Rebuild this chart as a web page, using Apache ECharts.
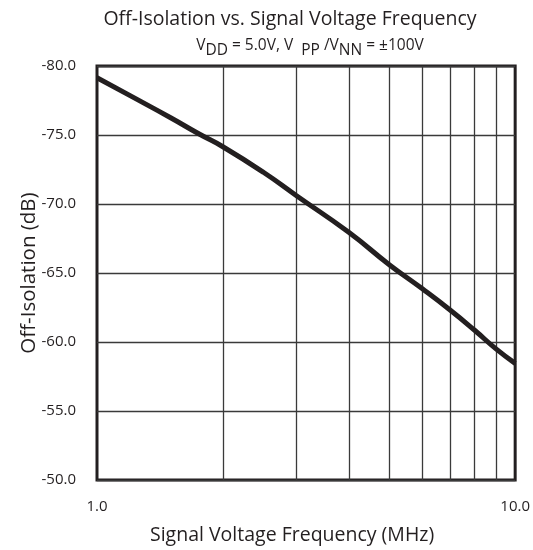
<!DOCTYPE html>
<html>
<head>
<meta charset="utf-8">
<script src="https://cdn.jsdelivr.net/npm/echarts@6/dist/echarts.min.js"></script>
<style>html,body{margin:0;padding:0;background:#fff}#c{width:533px;height:550px}</style>
</head>
<body>
<div id="c"></div>
<script>
var freqs = [1, 1.2, 1.5, 1.76, 2, 2.5, 3, 4, 5, 6, 7, 8, 9, 10];
var isolation = [-79.15, -77.85, -76.25, -75.05, -74.15, -72.3, -70.6, -67.95, -65.6, -63.85, -62.3, -60.85, -59.5, -58.45];
var minorFreqs = [2, 3, 4, 5, 6, 7, 8, 9];
var yTicks = [-80, -75, -70, -65, -60, -55, -50];

var ink = '#231f20';
var font = '"Open Sans", "Noto Sans", sans-serif';
var chart = echarts.init(document.getElementById('c'), null, {renderer: 'canvas'});
chart.setOption({
  animation: false,
  backgroundColor: '#fff',
  textStyle: {fontFamily: font},
  title: [{
    text: 'Off-Isolation vs. Signal Voltage Frequency',
    left: 285, textAlign: 'center', top: 4,
    textStyle: {fontFamily: font, fontSize: 19.5, fontWeight: 'normal', color: ink}
  }, {
    text: '{n|V}{s|DD}{n| = 5.0V, V  }{s|PP}{n| /V}{s|NN}{n| = ±100V}',
    left: 305, textAlign: 'center', top: 33,
    textStyle: {
      fontFamily: font, fontWeight: 'normal', color: ink,
      rich: {
        n: {fontFamily: font, fontSize: 15.5, color: ink, verticalAlign: 'top', lineHeight: 21},
        s: {fontFamily: font, fontSize: 15.5, color: ink, verticalAlign: 'bottom', lineHeight: 21, padding: [6, 0, 0, 0]}
      }
    }
  }],
  grid: {
    left: 97, right: 17, top: 66, bottom: 69,
    show: true, borderColor: ink, borderWidth: 3, backgroundColor: 'transparent'
  },
  xAxis: {
    type: 'log', logBase: 10, min: 1, max: 10,
    name: 'Signal Voltage Frequency (MHz)',
    nameLocation: 'middle', nameGap: 45,
    nameMoveOverlap: false,
    nameTextStyle: {fontFamily: font, fontSize: 19.5, color: ink, padding: [0, 28, 0, 0]},
    axisLine: {show: false},
    axisTick: {show: false},
    splitLine: {show: false},
    minorTick: {show: false},
    axisLabel: {fontFamily: font, fontSize: 15, color: ink, margin: 19,
      formatter: function (v) { return Number(v).toFixed(1); }}
  },
  yAxis: {
    type: 'value', min: yTicks[0], max: yTicks[yTicks.length - 1], interval: 5, inverse: true,
    name: 'Off-Isolation (dB)',
    nameLocation: 'middle', nameGap: 57,
    nameMoveOverlap: false,
    nameTextStyle: {fontFamily: font, fontSize: 20.5, color: ink},
    axisLine: {show: false},
    axisTick: {show: false},
    splitLine: {show: true, lineStyle: {color: '#3a3a3a', width: 1.3}},
    axisLabel: {fontFamily: font, fontSize: 15, color: ink, margin: 21,
      formatter: function (v) { return Number(v).toFixed(1); }}
  },
  series: [{
    type: 'line',
    data: freqs.map(function (f, i) { return [f, isolation[i]]; }),
    smooth: 0.5,
    showSymbol: false,
    lineStyle: {color: ink, width: 5},
    z: 5,
    markLine: {
      silent: true, symbol: 'none', label: {show: false},
      lineStyle: {color: '#3a3a3a', width: 1.3, type: 'solid'},
      data: minorFreqs.map(function (f) { return {xAxis: f}; }),
      z: 1
    }
  }]
});
</script>
</body>
</html>
